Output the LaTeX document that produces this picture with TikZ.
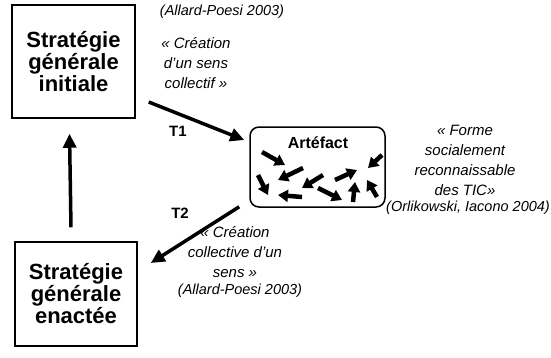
\documentclass[tikz,border=0pt]{standalone}
\usepackage{fontspec}
\setmainfont{Liberation Sans}
\usepackage{tikz}
\usetikzlibrary{arrows.meta}
\tikzset{
  box/.style={draw, line width=1.5pt, align=center, font=\fontsize{22}{22}\selectfont\bfseries, inner sep=0pt},
  note/.style={align=center, font=\fontsize{15}{20}\selectfont\itshape},
  cite/.style={font=\fontsize{14.5}{16}\selectfont\itshape},
  tlabel/.style={font=\fontsize{15}{16}\selectfont\bfseries},
  bigarrow/.style={line width=3.5pt, -{Triangle[length=14pt,width=13pt]}},
  smallarrow/.style={line width=4.5pt, -{Triangle[length=10pt,width=12pt]}}
}
\begin{document}
\begin{tikzpicture}[x=1pt,y=-1pt]
    \useasboundingbox (0,0) rectangle (551,357);

    \node[box, minimum width=123, minimum height=113] at (73.5,61.5) (init){Strat\'egie\\g\'en\'erale\\initiale};
    \node[box, minimum width=122, minimum height=104] at (76,294) (enact){Strat\'egie\\g\'en\'erale\\enact\'ee};
    \node[draw, line width=1.5pt, rounded corners=9pt, minimum width=135, minimum height=80] at (317.5,167) (art){};
    \node[font=\fontsize{16}{16}\selectfont\bfseries] at (318,143) (arttitle){Art\'efact};

    % small arrows inside the artefact
    \foreach \a/\b/\c/\d in {-55.5/-15/-32.5/-2, -14.5/1/-39.5/13, -59.5/8/-49.5/28,
      -15.5/30/-39.5/28, 5.5/8/-15.5/21, 0.5/21/24.5/33, 17.5/13/39.5/3,
      35.5/35/37.5/15, 64.5/-12/50.5/1, 59.5/30/49.5/13}
      \draw[smallarrow] ([shift={(\a,\b)}]art.center) -- ([shift={(\c,\d)}]art.center);

    \draw[bigarrow] ([xshift=-5pt,yshift=14pt]enact.north) -- ([xshift=-4pt,yshift=-15pt]init.south);
    \draw[bigarrow] ([xshift=13pt,yshift=-40.5pt]init.east) -- ([xshift=-5pt,yshift=27pt]art.west);
    \draw[bigarrow] ([xshift=-10pt,yshift=1pt]art.south west) -- ([xshift=13pt,yshift=31pt]enact.east);

    \node[tlabel] at (178,131) (t1){T1};
    \node[tlabel] at (180,213) (t2){T2};

    \node[cite] at (222,12) (cite1){(Allard-Poesi 2003)};
    \node[note] at (196,63) (sens1){\guillemotleft{} Cr\'eation\\d'un sens\\collectif \guillemotright};

    \node[note] at (465,160.5) (forme){\guillemotleft{} Forme\\socialement\\reconnaissable\\des TIC\guillemotright};
    \node[cite] at (468,208) (cite2){(Orlikowski, Iacono 2004)};

    \node[note] at (235,252) (sens2){\guillemotleft{} Cr\'eation\\collective d'un\\sens \guillemotright};
    \node[cite] at (240,291) (cite3){(Allard-Poesi 2003)};
  \end{tikzpicture}
\end{document}
